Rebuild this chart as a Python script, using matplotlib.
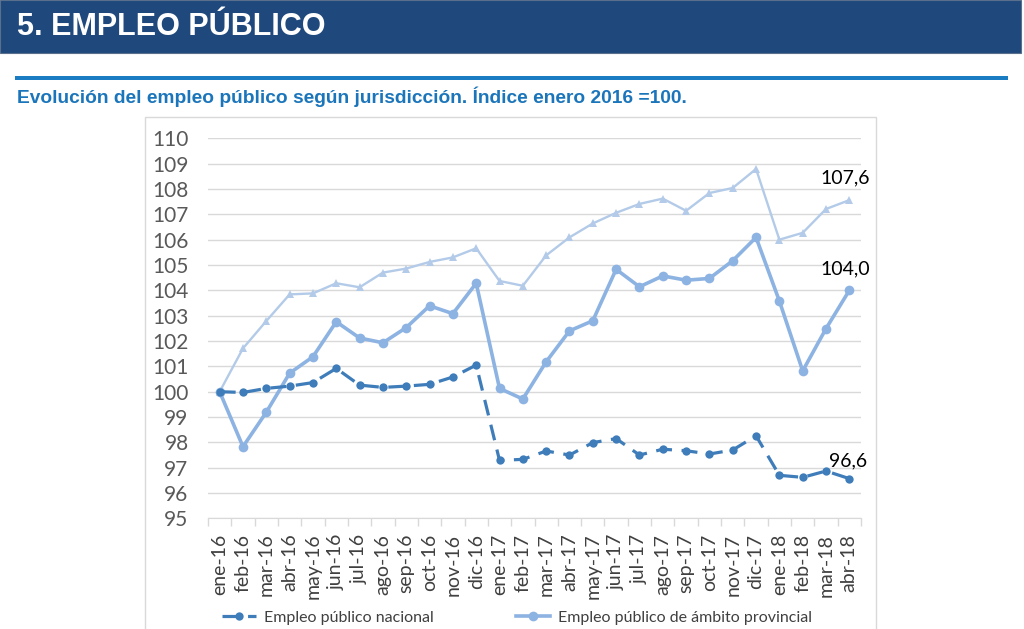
import numpy as np
import matplotlib
matplotlib.use("Agg")
import matplotlib.pyplot as plt
from matplotlib.patches import Rectangle

plt.rcParams["font.family"] = ["Lato", "DejaVu Sans"]

# ===== datos =====
meses = ["ene-16", "feb-16", "mar-16", "abr-16", "may-16", "jun-16", "jul-16",
         "ago-16", "sep-16", "oct-16", "nov-16", "dic-16",
         "ene-17", "feb-17", "mar-17", "abr-17", "may-17", "jun-17", "jul-17",
         "ago-17", "sep-17", "oct-17", "nov-17", "dic-17",
         "ene-18", "feb-18", "mar-18", "abr-18"]

nacional = [100.0, 99.97, 100.13, 100.22, 100.36, 100.92, 100.26, 100.17, 100.22,
            100.29, 100.58, 101.05,
            97.29, 97.33, 97.66, 97.50, 97.99, 98.15, 97.50, 97.73, 97.67, 97.54,
            97.70, 98.26,
            96.70, 96.62, 96.87, 96.57]

provincial = [100.0, 97.83, 99.19, 100.73, 101.38, 102.76, 102.12, 101.93, 102.53,
              103.39, 103.08, 104.28,
              100.13, 99.71, 101.18, 102.40, 102.80, 104.83, 104.14, 104.57, 104.40,
              104.47, 105.17, 106.09,
              103.58, 100.82, 102.49, 104.0]

otro = [100.0, 101.71, 102.79, 103.84, 103.88, 104.28, 104.12, 104.70, 104.86,
        105.12, 105.30, 105.66,
        104.37, 104.18, 105.38, 106.09, 106.64, 107.06, 107.41, 107.62, 107.14,
        107.84, 108.04, 108.79,
        106.00, 106.27, 107.21, 107.56]

etiquetas = {"otro": "107,6", "provincial": "104,0", "nacional": "96,6"}

# ===== figura =====
W, H = 1024, 629
fig = plt.figure(figsize=(W / 100, H / 100), dpi=100)
fig.patch.set_facecolor("white")

# cabecera
fig.patches.append(Rectangle((0, 1 - 53 / H), 1021 / W, 53 / H, transform=fig.transFigure,
                             facecolor="#1F497D", edgecolor="#5a6f8c", lw=0.8, zorder=0))
fig.text(17 / W, 1 - 27 / H, "5. EMPLEO PÚBLICO", color="white", fontsize=22,
         fontweight="bold", family=["Liberation Sans Narrow", "Liberation Sans"], va="center")
fig.patches.append(Rectangle((15 / W, 1 - 80 / H), 993 / W, 4 / H, transform=fig.transFigure,
                             facecolor="#1A7CC3", edgecolor="none"))
fig.text(17 / W, 1 - 97 / H,
         "Evolución del empleo público según jurisdicción. Índice enero 2016 =100.",
         color="#1B75BB", fontsize=13.8, fontweight="bold", family=["Liberation Sans"], va="center")

# marco del gráfico
fig.patches.append(Rectangle((145 / W, -0.05), 731 / W, 1 - 117 / H + 0.05,
                             transform=fig.transFigure, facecolor="none",
                             edgecolor="#D9D9D9", lw=1))

ax = fig.add_axes([208 / W, 1 - 518.4 / H, 653 / W, (518.4 - 138.3) / H])
x = np.arange(len(meses))

l_otro, = ax.plot(x, otro, color="#B3CBE8", lw=1.7, marker="^", ms=6,
                  markeredgewidth=0, zorder=3)
l_prov, = ax.plot(x, provincial, color="#8DB3E2", lw=2.6, marker="o", ms=7,
                  markeredgewidth=0, zorder=4, label="Empleo público de ámbito provincial")
l_nac, = ax.plot(x, nacional, color="#3F7DBA", lw=2.3, marker="o", ms=6,
                 markeredgewidth=0, dashes=(5, 3), zorder=5, label="Empleo público nacional")

ax.set_xlim(-0.5, len(meses) - 0.5)
ax.set_ylim(95, 110)
ax.set_yticks(np.arange(95, 111, 1))
ax.yaxis.grid(True, color="#D9D9D9", lw=1)
ax.set_axisbelow(True)
for s in ["top", "right", "left"]:
    ax.spines[s].set_visible(False)
ax.spines["bottom"].set_color("#D9D9D9")
ax.tick_params(axis="y", length=0, pad=14, labelsize=15, labelcolor="#595959")

ax.set_xticks(x)
ax.set_xticklabels(meses, rotation=90)
ax.set_xticks(np.arange(-0.5, len(meses), 1), minor=True)
ax.tick_params(axis="x", which="major", length=0, pad=11, labelsize=14, labelcolor="#404040")
ax.tick_params(axis="x", which="minor", length=6, color="#D9D9D9", width=1)

# etiquetas finales
n = len(meses) - 1
ax.annotate(etiquetas["otro"], (n, otro[n]), xytext=(-3, 10), textcoords="offset points",
            ha="center", va="bottom", fontsize=14, color="black")
ax.annotate(etiquetas["provincial"], (n, provincial[n]), xytext=(-3, 9), textcoords="offset points",
            ha="center", va="bottom", fontsize=14, color="black")
ax.annotate(etiquetas["nacional"], (n, nacional[n]), xytext=(-1, 7), textcoords="offset points",
            ha="center", va="bottom", fontsize=14, color="black")

# leyenda
fig.legend(handles=[l_nac, l_prov], loc="center left", bbox_to_anchor=(214 / W, 1 - 618 / H),
           ncol=2, frameon=False, fontsize=11.5, handlelength=2.1, columnspacing=5.2,
           labelcolor="#404040", borderpad=0, handletextpad=0.5)

fig.savefig("out.png", dpi=100)
